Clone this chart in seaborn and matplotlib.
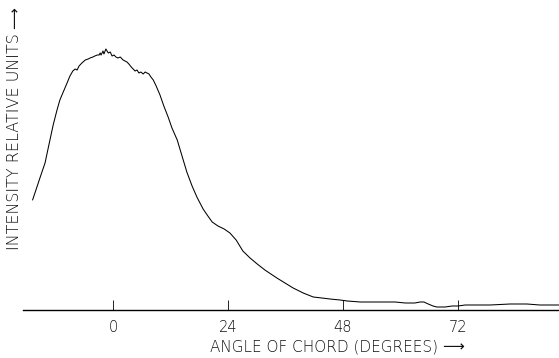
import matplotlib
matplotlib.use("Agg")
import matplotlib.pyplot as plt
import seaborn as sns
import pandas as pd

angle_deg = [-16.8, -16.1, -15.2, -14.2, -13.4, -12.5, -11.7, -11.1, -10.4, -9.6,
             -9.0, -8.4, -7.9, -7.5, -7.1, -6.5, -5.8, -5.2, -4.8, -4.2,
             -3.8, -3.3, -2.9, -2.7, -2.5, -2.1, -1.9, -1.5, -1.0, -0.6,
             -0.2, 0.2, 0.6, 1.0, 1.5, 2.1, 2.5, 2.9, 3.3, 3.8,
             4.2, 4.6, 5.0, 5.4, 5.8, 6.3, 6.7, 7.1, 7.5, 7.9,
             8.4, 9.0, 9.8, 10.6, 11.5, 12.3, 13.4, 14.4, 15.4, 16.5,
             17.5, 18.8, 19.8, 20.7, 21.9, 23.2, 24.4, 25.7, 27.1, 28.6,
             30.1, 31.7, 34.2, 35.9, 37.6, 39.7, 41.8, 43.6, 45.3, 47.4,
             48.9, 51.6, 56.4, 58.9, 61.0, 63.0, 64.1, 64.9, 65.8, 66.8,
             67.6, 69.3, 70.8, 72.0, 73.5, 75.2, 78.7, 82.9, 86.4, 89.1, 93.1]
intensity = [110, 120, 133, 147, 165, 185, 200, 210, 218, 227,
             234, 239, 241, 240, 244, 247, 250, 251, 252, 253,
             254, 255, 255, 257, 255, 259, 256, 261, 257, 258,
             254, 255, 253, 252, 253, 250, 249, 248, 246, 243,
             241, 239, 240, 237, 238, 236, 238, 237, 236, 233,
             230, 224, 215, 204, 193, 182, 170, 154, 138, 124,
             113, 101, 94, 88, 84, 81, 77, 70, 59, 52,
             46, 40, 32, 27, 22, 17, 13, 12, 11, 10,
             9, 8, 8, 8, 7, 7, 8, 8, 6, 4,
             3, 3, 4, 4, 5, 5, 5, 6, 6, 5, 5]
tick_values = [0, 24, 48, 72]
tick_labels = ["0", "24", "48", "72"]
xlabel_text = "ANGLE OF CHORD (DEGREES)"
ylabel_text = "INTENSITY RELATIVE UNITS"
arrow = "\u27f6"

df = pd.DataFrame({"angle": angle_deg, "intensity": intensity})

sns.set_theme(style="white")
plt.rcParams["font.family"] = ["DejaVu Sans"]

fig = plt.figure(figsize=(5.59, 3.58), dpi=100)
ax = fig.add_axes([23 / 559, 48 / 358, 1 - 23 / 559, 310 / 358])
sns.lineplot(data=df, x="angle", y="intensity", ax=ax, color="black",
             linewidth=0.75, sort=False)

ax.set_xlim(-18.8, 93.1)
ax.set_ylim(0, 310)
for s in ["top", "right", "left"]:
    ax.spines[s].set_visible(False)
ax.spines["bottom"].set_color("black")
ax.spines["bottom"].set_linewidth(1.0)
ax.set_yticks([])
ax.set_xticks(tick_values)
ax.set_xticklabels(tick_labels, fontweight="light")
ax.tick_params(axis="x", direction="in", length=7, width=0.6, color="black",
               pad=7, labelsize=10.5, labelcolor="#111111", bottom=True)
ax.set_xlabel("")
ax.set_ylabel("")

xl = fig.text(210 / 559, 1 - 347 / 358, xlabel_text,
              ha="left", va="center", fontsize=11, color="#111111",
              fontweight="light")
ax.annotate(arrow, xy=(1, 0.5), xycoords=xl, xytext=(3, 0),
            textcoords="offset points", ha="left", va="center",
            fontsize=11, color="#111111", annotation_clip=False)

yl = fig.text(15 / 559, 1 - 250 / 358, ylabel_text,
              ha="center", va="bottom", rotation=90, fontsize=11.5,
              color="#111111", fontweight="light")
ax.annotate(arrow, xy=(0.5, 1), xycoords=yl, xytext=(0, 3),
            textcoords="offset points", ha="center", va="bottom",
            rotation=90, fontsize=11, color="#111111",
            annotation_clip=False)

fig.savefig("out.png", dpi=100)
